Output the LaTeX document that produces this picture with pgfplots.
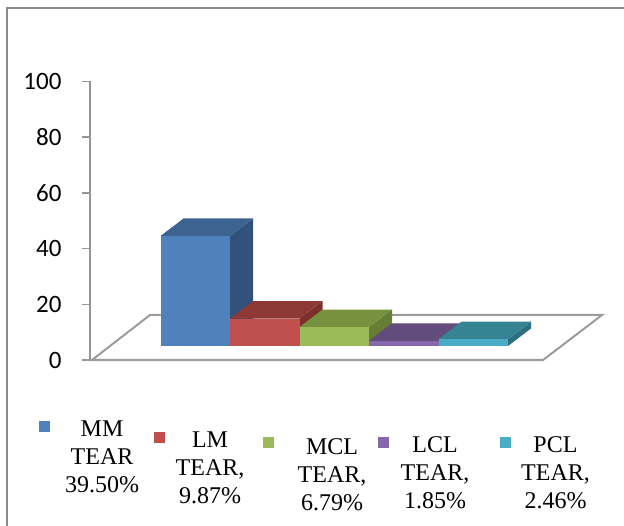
\documentclass[border=0pt]{standalone}
\usepackage{pgfplots}
\pgfplotsset{compat=1.18}
\usepackage{fontspec}
\setmainfont{Liberation Serif}
\newfontfamily\carlito{Carlito}

\definecolor{mmF}{HTML}{4F81BD}\definecolor{mmT}{HTML}{3D6491}\definecolor{mmS}{HTML}{32527C}
\definecolor{lmF}{HTML}{C0504D}\definecolor{lmT}{HTML}{8F3937}\definecolor{lmS}{HTML}{7C2F2D}
\definecolor{mclF}{HTML}{9BBB59}\definecolor{mclT}{HTML}{77923F}\definecolor{mclS}{HTML}{657D35}
\definecolor{lclF}{HTML}{8567AA}\definecolor{lclT}{HTML}{624B7D}\definecolor{lclS}{HTML}{53406B}
\definecolor{pclF}{HTML}{4BACC6}\definecolor{pclT}{HTML}{368394}\definecolor{pclS}{HTML}{2D6F80}
\definecolor{axgray}{HTML}{959595}
\definecolor{floorgray}{HTML}{9C9C9C}
\definecolor{framegray}{HTML}{8A8A8A}

% values (percent)
\def\vA{39.50}\def\vB{9.87}\def\vC{6.79}\def\vD{1.85}\def\vE{2.46}
\def\dz{6.28}% 3-D depth offset in y units
\pgfmathsetmacro\tA{\vA+\dz}
\pgfmathsetmacro\tB{\vB+\dz}
\pgfmathsetmacro\tC{\vC+\dz}
\pgfmathsetmacro\tD{\vD+\dz}
\pgfmathsetmacro\tE{\vE+\dz}

\begin{document}
\begin{tikzpicture}
\begin{axis}[name=A, x=69.5bp, y=2.785bp, xmin=-1.514, xmax=5.9, ymin=0, ymax=100,
  clip=false, axis x line=none, axis y line=left,
  y axis line style={-, axgray, line width=1.5bp},
  ytick={0,20,...,100}, xtick=\empty, tick align=outside, major tick length=8bp,
  ytick style={axgray, line width=1.5bp},
  yticklabel style={font=\fontsize{25bp}{30bp}\selectfont\carlito, text=black},
  yticklabel shift=17bp,
  /pgf/number format/assume math mode=true,
]
\addplot[fill=white, draw=floorgray, line width=2bp] coordinates {(-1.486,0) (5.004,0) (5.853,16.16) (-0.651,16.16)} -- cycle;
\coordinate (bbase) at (axis cs:0,5.03);
\coordinate (ll) at (axis cs:-2.8094,-59.605);
\coordinate (ur) at (axis cs:6.1691,129.264);
\coordinate (f1) at (axis cs:-2.7086,126.39);
\coordinate (f2) at (axis cs:6.5,-65);
\end{axis}
\begin{axis}[at={(bbase)}, anchor=origin, x=69.5bp, y=2.785bp,
  xmin=-1.5, xmax=5.9, ymin=-10, ymax=100, hide axis, clip=false,
  legend columns=5,
  legend style={at={(-0.1011,-0.1539)}, anchor=north west, draw=none, fill=none,
    inner sep=0pt, outer sep=0pt, font=\fontsize{24bp}{28bp}\selectfont,
    cells={anchor=base west}, nodes={inner sep=0pt},
    /tikz/every even column/.append style={column sep=14bp}},
]
% MM
\addplot[fill=mmS, draw=none, forget plot] coordinates {(0.5,0) (0.831,\dz) (0.831,\tA) (0.5,\vA)};
\addplot[fill=mmT, draw=none, forget plot] coordinates {(-0.5,\vA) (0.5,\vA) (0.831,\tA) (-0.169,\tA)};
\addplot[ybar, bar width=1, bar shift=0pt, fill=mmF, draw=none,
  legend image code/.code={\fill[mmF] (0bp,4.5bp) rectangle (11bp,15.5bp);}] coordinates {(0,\vA)};
\addlegendentry{\hspace*{7bp}\parbox[t]{90bp}{\centering MM\\TEAR\\39.50\%}\hspace*{-7bp}}
% LM
\addplot[fill=lmS, draw=none, forget plot] coordinates {(1.5,0) (1.831,\dz) (1.831,\tB) (1.5,\vB)};
\addplot[fill=lmT, draw=none, forget plot] coordinates {(0.5,\vB) (1.5,\vB) (1.831,\tB) (0.831,\tB)};
\addplot[ybar, bar width=1, bar shift=0pt, fill=lmF, draw=none,
  legend image code/.code={\fill[lmF] (0bp,-6bp) rectangle (11bp,5bp);}] coordinates {(1,\vB)};
\addlegendentry{\raisebox{-11bp}{\parbox[t]{90bp}{\centering LM\\TEAR,\\9.87\%}}\hspace*{-6bp}}
% MCL
\addplot[fill=mclS, draw=none, forget plot] coordinates {(2.5,0) (2.831,\dz) (2.831,\tC) (2.5,\vC)};
\addplot[fill=mclT, draw=none, forget plot] coordinates {(1.5,\vC) (2.5,\vC) (2.831,\tC) (1.831,\tC)};
\addplot[ybar, bar width=1, bar shift=0pt, fill=mclF, draw=none,
  legend image code/.code={\fill[mclF] (0bp,-11.5bp) rectangle (11bp,-0.5bp);}] coordinates {(2,\vC)};
\addlegendentry{\hspace*{13bp}\raisebox{-18bp}{\parbox[t]{90bp}{\centering MCL\\TEAR,\\6.79\%}}\hspace*{-13bp}}
% LCL
\addplot[fill=lclS, draw=none, forget plot] coordinates {(3.5,0) (3.831,\dz) (3.831,\tD) (3.5,\vD)};
\addplot[fill=lclT, draw=none, forget plot] coordinates {(2.5,\vD) (3.5,\vD) (3.831,\tD) (2.831,\tD)};
\addplot[ybar, bar width=1, bar shift=0pt, fill=lclF, draw=none,
  legend image code/.code={\fill[lclF] (0bp,-11.5bp) rectangle (11bp,-0.5bp);}] coordinates {(3,\vD)};
\addlegendentry{\hspace*{1bp}\raisebox{-16bp}{\parbox[t]{90bp}{\centering LCL\\TEAR,\\1.85\%}}\hspace*{5.5bp}}
% PCL
\addplot[fill=pclS, draw=none, forget plot] coordinates {(4.5,0) (4.831,\dz) (4.831,\tE) (4.5,\vE)};
\addplot[fill=pclT, draw=none, forget plot] coordinates {(3.5,\vE) (4.5,\vE) (4.831,\tE) (3.831,\tE)};
\addplot[ybar, bar width=1, bar shift=0pt, fill=pclF, draw=none,
  legend image code/.code={\fill[pclF] (0bp,-11.5bp) rectangle (11bp,-0.5bp);}] coordinates {(4,\vE)};
\addlegendentry{\raisebox{-16bp}{\parbox[t]{90bp}{\centering PCL\\TEAR,\\2.46\%}}}
\end{axis}
\draw[framegray, line width=2.5bp] (f1) rectangle (f2);
\pgfresetboundingbox
\path[use as bounding box] (ll) rectangle (ur);
\end{tikzpicture}
\end{document}
